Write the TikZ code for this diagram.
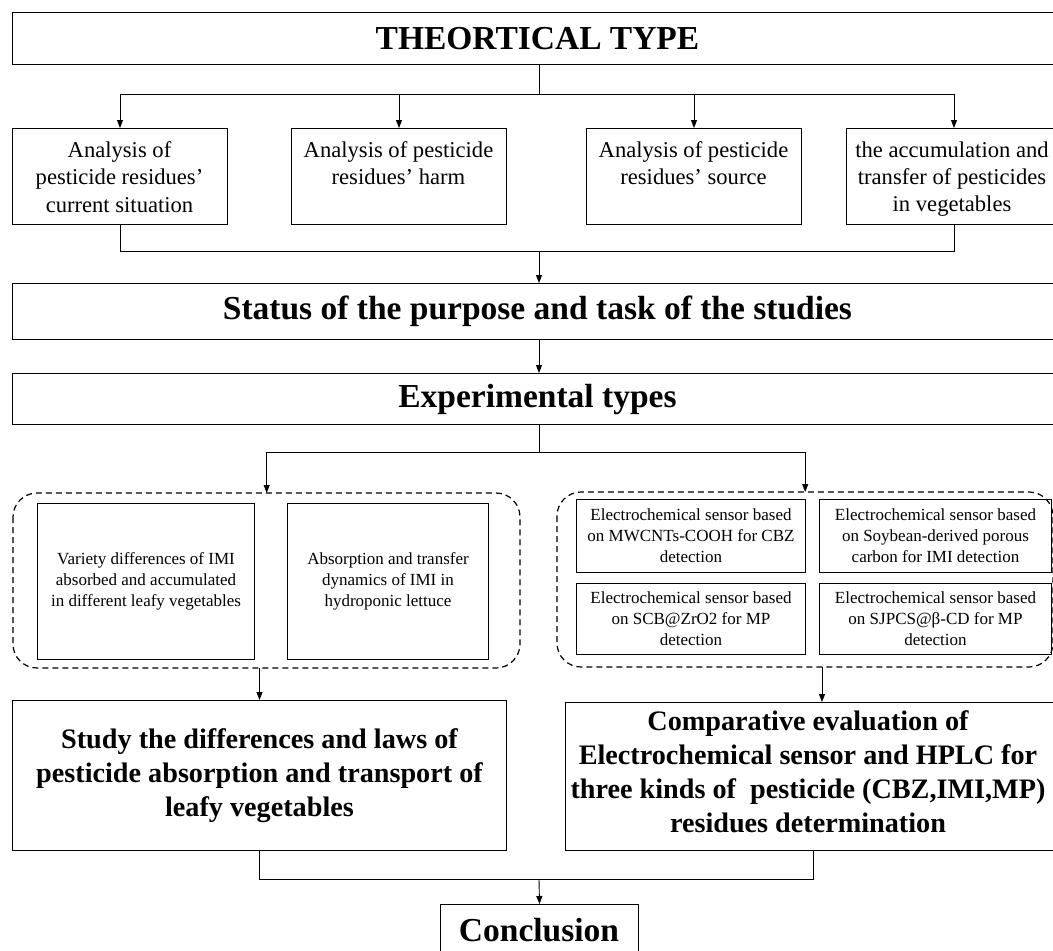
\documentclass[tikz,border=0pt]{standalone}
\usepackage{fontspec}
\setmainfont{Liberation Serif}
\usetikzlibrary{arrows.meta}
\begin{document}
\begin{tikzpicture}[x=1pt,y=-1pt,
  box/.style={draw, line width=1pt, inner sep=0pt, anchor=north west},
  arr/.style={-{Triangle[length=8pt,width=6pt]}, line width=0.9pt},
  ln/.style={line width=0.9pt},
  dbox/.style={draw, dash pattern=on 6pt off 4pt, rounded corners=24pt, line width=1.2pt},
  head/.style={font=\bfseries\fontsize{33.5}{38}\selectfont},
  sub/.style={font=\bfseries\fontsize{28.2}{34}\selectfont, align=center},
  small/.style={font=\fontsize{22.6}{27.3}\selectfont, align=center, anchor=north, inner sep=0pt},
  tiny/.style={font=\fontsize{17}{21}\selectfont, align=center},
]
\useasboundingbox (0,0) rectangle (1053,951);
\fill[white] (0,0) rectangle (1053,951);

% top
\node[box, minimum width=1050pt, minimum height=52pt] (top) at (12,12) {};
\node[head] (toptxt) at (top.center) {THEORTICAL TYPE};

% row of four
\node[box, minimum width=215pt, minimum height=96pt] (b1) at (12,128) {};
\node[box, minimum width=215pt, minimum height=96pt] (b2) at (291,128) {};
\node[box, minimum width=215pt, minimum height=96pt] (b3) at (586,128) {};
\node[box, minimum width=215pt, minimum height=96pt] (b4) at (846,128) {};
\node[small] (t1) at (119.5,141.5) {Analysis of\\pesticide residues'\\current situation};
\node[small] (t2) at (398.5,141.5) {Analysis of pesticide\\residues' harm};
\node[small] (t3) at (693.5,141.5) {Analysis of pesticide\\residues' source};
\node[small] (t4) at (952,141.5) {the accumulation and\\transfer of pesticides\\in vegetables};

% status and experimental
\node[box, minimum width=1050pt, minimum height=56pt] (status) at (12,283) {};
\node[head] (stattxt) at (status.center) {Status of the purpose and task of the studies};
\node[box, minimum width=1050pt, minimum height=51pt] (exp) at (12,373) {};
\node[head] (exptxt) at (exp.center) {Experimental types};

% dashed groups
\draw[dbox] (13,493) rectangle (520,668);
\node[inner sep=0pt, minimum width=507pt, minimum height=175pt, anchor=north west] (dL) at (13,493) {};
\draw[dbox] (557,492) rectangle (1053,667);
\node[inner sep=0pt, minimum width=496pt, minimum height=175pt, anchor=north west] (dR) at (557,492) {};

\node[box, minimum width=217pt, minimum height=156pt] (iA) at (37,503) {};
\node[tiny] at (iA.center) {Variety differences of IMI\\absorbed and accumulated\\in different leafy vegetables};
\node[box, minimum width=201pt, minimum height=156pt] (iB) at (287,503) {};
\node[tiny] at (iB.center) {Absorption and transfer\\dynamics of IMI in\\hydroponic lettuce};

\node[box, minimum width=229pt, minimum height=73pt] (e1) at (576,499) {};
\node[tiny] at (e1.center) {Electrochemical sensor based\\on MWCNTs-COOH for CBZ\\detection};
\node[box, minimum width=232pt, minimum height=73pt] (e2) at (819,499) {};
\node[tiny] at (e2.center) {Electrochemical sensor based\\on Soybean-derived porous\\carbon for IMI detection};
\node[box, minimum width=229pt, minimum height=71pt] (e3) at (576,583) {};
\node[tiny] at (e3.center) {Electrochemical sensor based\\on SCB@ZrO2 for MP\\detection};
\node[box, minimum width=232pt, minimum height=71pt] (e4) at (819,583) {};
\node[tiny] at (e4.center) {Electrochemical sensor based\\on SJPCS@β-CD for MP\\detection};

% big boxes
\node[box, minimum width=494pt, minimum height=150pt] (bigL) at (12,700) {};
\node[sub] at (bigL.center) {Study the differences and laws of\\pesticide absorption and transport of\\leafy vegetables};
\node[box, minimum width=495pt, minimum height=148pt] (bigR) at (565,702) {};
\node[sub] at (808,772) {Comparative evaluation of\\Electrochemical sensor and HPLC for\\three kinds of \ pesticide (CBZ,IMI,MP)\\residues determination};

% conclusion
\node[box, minimum width=198pt, minimum height=62pt] (concl) at (440,904) {};
\node[head] at (539,930) {Conclusion};

% connectors
\coordinate (j1) at (539,94);
\coordinate (j2) at (539,251);
\coordinate (j3) at (539,452);
\coordinate (j4) at (539,879);
\coordinate (oR) at (822,0);

\draw[ln] (top.south -| j1) -- (j1);
\draw[ln] (b1.north |- j1) -- (b4.north |- j1);
\foreach \b in {b1,b2,b3,b4} \draw[arr] (\b.north |- j1) -- (\b.north);
\draw[ln] (b1.south) -- (b1.south |- j2) -- (b4.south |- j2) -- (b4.south);
\draw[arr] (j2) -- (status.north -| j2);
\draw[arr] (status.south -| j2) -- (exp.north -| j2);
\draw[ln] (exp.south -| j3) -- (j3);
\draw[ln] (dL.north |- j3) -- (dR.north |- j3);
\draw[arr] (dL.north |- j3) -- (dL.north);
\draw[arr] (dR.north |- j3) -- (dR.north);
\draw[arr] (dL.south -| bigL) -- (bigL.north);
\draw[arr] (dR.south -| oR) -- (bigR.north -| oR);
\draw[ln] (bigL.south) -- (bigL.south |- j4) -- (bigR.south |- j4) -- (bigR.south);
\draw[arr] (j4) -- (concl.north);
\end{tikzpicture}
\end{document}
